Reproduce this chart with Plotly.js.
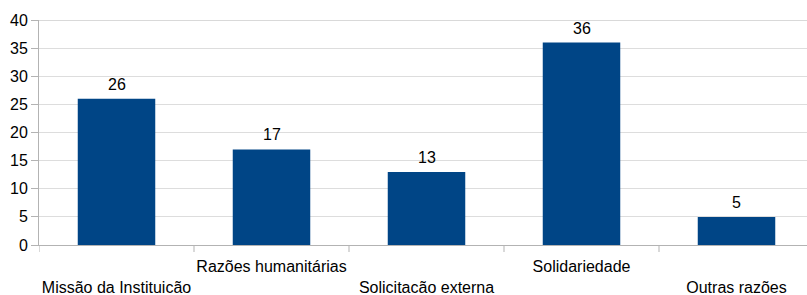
<!DOCTYPE html>
<html>
<head>
<meta charset="utf-8">
<script src="https://cdn.plot.ly/plotly-3.0.1.min.js"></script>
<style>html,body{margin:0;padding:0;background:#fff;}#chart{width:807px;height:295px;}</style>
</head>
<body>
<div id="chart"></div>
<script>
const categories = ["Missão da Instituicão", "Razões humanitárias", "Solicitacão externa", "Solidariedade", "Outras razões"];
const values = [26, 17, 13, 36, 5];
const yTicks = [0, 5, 10, 15, 20, 25, 30, 35, 40];

const FONT = "Liberation Sans, Arial, sans-serif";
const tickText = categories.map((c, i) => (i % 2 === 0 ? "<br>" + c : c));

const trace = {
  type: "bar",
  x: categories.map((c, i) => i),
  y: values,
  width: 0.5,
  marker: { color: "#004586", line: { width: 0 } },
  hoverinfo: "none"
};

const annotations = values.map((v, i) => ({
  x: i, y: v, xref: "x", yref: "y",
  text: String(v), showarrow: false,
  yanchor: "bottom", yshift: 4,
  font: { family: FONT, size: 16, color: "#000" }
}));

const plotH = 295 - 20 - 50;
const boundaryTicks = categories.map((c, i) => i - 0.5).map(b => ({
  type: "line", xref: "x", yref: "paper",
  x0: b, x1: b, y0: 0, y1: -7 / plotH,
  line: { color: "#b3b3b3", width: 1 }
}));
const topLine = {
  type: "line", xref: "paper", yref: "y",
  x0: 0, x1: 1, y0: yTicks[yTicks.length - 1], y1: yTicks[yTicks.length - 1],
  line: { color: "#b3b3b3", width: 1 }
};

const layout = {
  width: 807, height: 295,
  margin: { l: 39, r: 0, t: 20, b: 50 },
  paper_bgcolor: "#fff", plot_bgcolor: "#fff",
  showlegend: false,
  font: { family: FONT, size: 16, color: "#000" },
  xaxis: {
    type: "linear",
    range: [-0.5, -0.5 + 768 / 155],
    tickmode: "array",
    tickvals: categories.map((c, i) => i),
    ticktext: tickText,
    showgrid: false, zeroline: false,
    showline: true, linecolor: "#b3b3b3", linewidth: 1,
    ticks: "",
    ticklabelstandoff: 7,
    tickfont: { family: FONT, size: 16, color: "#000" }
  },
  yaxis: {
    range: [0, 40],
    tickmode: "array",
    tickvals: yTicks,
    ticktext: yTicks.map(String),
    showgrid: true, gridcolor: "#dddddd", gridwidth: 1,
    zeroline: false,
    showline: true, linecolor: "#b3b3b3", linewidth: 1,
    ticks: "outside", ticklen: 7, tickcolor: "#b3b3b3",
    tickfont: { family: FONT, size: 16, color: "#000" }
  },
  shapes: boundaryTicks.concat([topLine]),
  annotations: annotations
};

Plotly.newPlot("chart", [trace], layout, { staticPlot: true, displayModeBar: false });
</script>
</body>
</html>
